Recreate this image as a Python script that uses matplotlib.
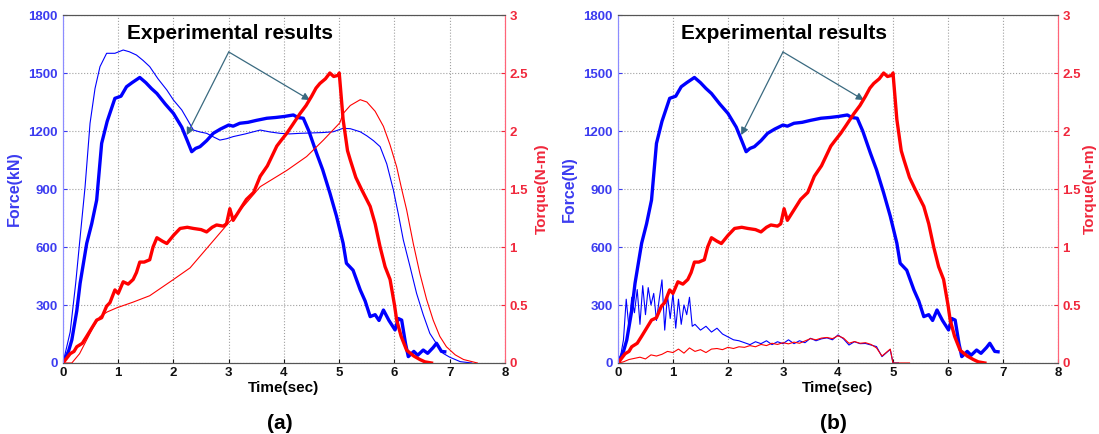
import numpy as np
import matplotlib.pyplot as plt

plt.rcParams['font.family'] = ['Liberation Sans', 'DejaVu Sans']
plt.rcParams['font.weight'] = 'bold'

# --- experimental force (thick blue), same in both panels ---
t_exp_force = [0, 0.1, 0.16, 0.25, 0.31, 0.43, 0.52, 0.61, 0.70, 0.80, 0.94, 1.05, 1.15, 1.25, 1.39,
               1.50, 1.60, 1.70, 1.85, 2.0, 2.15, 2.25, 2.33, 2.40, 2.48, 2.60, 2.72, 2.85, 3.0, 3.08,
               3.2, 3.35, 3.5, 3.69, 3.85, 4.0, 4.17, 4.25, 4.35, 4.45, 4.59, 4.7, 4.83, 4.95, 5.07,
               5.13, 5.25, 5.38, 5.47, 5.56, 5.65, 5.72, 5.80, 5.9, 6.01, 6.07, 6.13, 6.2, 6.25, 6.35,
               6.42, 6.52, 6.6, 6.7, 6.76, 6.85, 6.91]
exp_force = [0, 60, 119, 270, 412, 619, 720, 843, 1136, 1250, 1369, 1380, 1429, 1450, 1477,
             1450, 1420, 1394, 1340, 1291, 1220, 1150, 1093, 1110, 1119, 1150, 1188, 1210, 1231, 1225,
             1240, 1245, 1255, 1266, 1270, 1275, 1283, 1270, 1266, 1200, 1085, 1000, 880, 760, 620,
             516, 480, 378, 320, 240, 250, 220, 274, 220, 171, 230, 222, 100, 33, 60,
             40, 67, 50, 80, 102, 60, 58]

# --- experimental torque (thick red), same in both panels ---
t_exp_torque = [0, 0.13, 0.2, 0.25, 0.35, 0.43, 0.52, 0.61, 0.7, 0.79, 0.85, 0.94, 1.0, 1.09, 1.18,
                1.27, 1.33, 1.39, 1.47, 1.57, 1.63, 1.70, 1.80, 1.88, 2.0, 2.12, 2.25, 2.36, 2.50,
                2.60, 2.70, 2.78, 2.90, 2.96, 3.02, 3.08, 3.2, 3.32, 3.45, 3.57, 3.70, 3.87, 3.95,
                4.05, 4.15, 4.29, 4.40, 4.50, 4.58, 4.65, 4.75, 4.83, 4.9, 4.98, 5.0, 5.03, 5.07,
                5.15, 5.2, 5.3, 5.4, 5.56, 5.65, 5.74, 5.83, 5.92, 6.0, 6.04, 6.12, 6.22, 6.35,
                6.46, 6.55, 6.67]
exp_torque = [0, 0.08, 0.10, 0.14, 0.17, 0.23, 0.30, 0.37, 0.39, 0.49, 0.52, 0.63, 0.60, 0.70, 0.68,
              0.72, 0.78, 0.87, 0.87, 0.89, 1.0, 1.08, 1.05, 1.03, 1.10, 1.16, 1.17, 1.16, 1.15,
              1.13, 1.17, 1.19, 1.18, 1.20, 1.33, 1.23, 1.32, 1.41, 1.47, 1.61, 1.70, 1.87, 1.92,
              1.98, 2.05, 2.15, 2.22, 2.30, 2.37, 2.41, 2.45, 2.50, 2.47, 2.48, 2.50, 2.33, 2.10,
              1.83, 1.75, 1.60, 1.50, 1.35, 1.20, 1.00, 0.83, 0.72, 0.50, 0.37, 0.23, 0.11, 0.06,
              0.03, 0.01, 0]

# --- panel (a): simulated force (thin blue) ---
t_sim_force_a = [0, 0.13, 0.23, 0.3, 0.40, 0.49, 0.58, 0.67, 0.79, 0.94, 1.09, 1.2, 1.33, 1.45, 1.57,
                 1.72, 1.88, 2.0, 2.15, 2.25, 2.36, 2.48, 2.60, 2.72, 2.84, 2.96, 3.08, 3.3, 3.57,
                 3.75, 3.93, 4.1, 4.29, 4.5, 4.7, 4.89, 5.07, 5.2, 5.38, 5.5, 5.62, 5.74, 5.86, 5.98,
                 6.07, 6.16, 6.28, 6.40, 6.52, 6.64, 6.76, 6.88, 7.0, 7.19, 7.4]
sim_force_a = [0, 160, 412, 620, 912, 1240, 1420, 1533, 1602, 1602, 1619, 1610, 1593, 1565, 1533,
               1470, 1412, 1360, 1309, 1260, 1205, 1195, 1188, 1170, 1153, 1160, 1171, 1185, 1205,
               1195, 1188, 1185, 1188, 1190, 1192, 1196, 1214, 1212, 1196, 1175, 1150, 1119, 1030, 895,
               770, 636, 500, 360, 250, 153, 100, 50, 30, 7, 0]

# --- panel (a): simulated torque (thin red) ---
t_sim_torque_a = [0, 0.16, 0.3, 0.43, 0.55, 0.67, 0.8, 0.97, 1.27, 1.57, 2.0, 2.3, 2.66, 3.02, 3.32,
                  3.57, 4.05, 4.41, 4.71, 5.01, 5.07, 5.2, 5.38, 5.5, 5.65, 5.80, 5.92, 6.04, 6.13,
                  6.22, 6.34, 6.46, 6.58, 6.70, 6.82, 6.94, 7.1, 7.25, 7.5]
sim_torque_a = [0, 0, 0.08, 0.20, 0.31, 0.40, 0.44, 0.475, 0.525, 0.58, 0.72, 0.82, 1.02, 1.22, 1.38,
                1.52, 1.66, 1.78, 1.92, 2.07, 2.15, 2.22, 2.27, 2.25, 2.17, 2.04, 1.88, 1.69, 1.50,
                1.32, 1.03, 0.77, 0.55, 0.37, 0.23, 0.14, 0.07, 0.03, 0]

# --- panel (b): simulated force (thin blue, noisy) ---
t_sim_force_b = [0, 0.05, 0.1, 0.15, 0.2, 0.25, 0.3, 0.35, 0.4, 0.45, 0.5, 0.55, 0.6, 0.65, 0.7,
                 0.75, 0.8, 0.85, 0.9, 0.95, 1.0, 1.05, 1.1, 1.15, 1.2, 1.25, 1.3, 1.35, 1.4, 1.5,
                 1.6, 1.7, 1.8, 1.9, 2.0, 2.1, 2.2, 2.3, 2.4, 2.5, 2.6, 2.7, 2.8, 2.9, 3.0, 3.1,
                 3.2, 3.3, 3.4, 3.5, 3.6, 3.7, 3.8, 3.9, 4.0, 4.1, 4.2, 4.3, 4.4, 4.5, 4.6, 4.7,
                 4.8, 4.9, 4.95, 5.0, 5.1]
sim_force_b = [0, 40, 120, 330, 180, 340, 260, 380, 200, 400, 250, 390, 300, 360, 220,
               330, 430, 170, 350, 230, 360, 180, 330, 200, 300, 250, 340, 190, 200, 170,
               190, 160, 180, 150, 135, 120, 115, 105, 95, 110, 100, 115, 95, 110, 100, 120,
               100, 115, 105, 128, 115, 125, 130, 120, 145, 125, 93, 110, 100, 101, 93, 85,
               33, 58, 70, 0, 0]

# --- panel (b): simulated torque (thin red, noisy) ---
t_sim_torque_b = [0, 0.1, 0.2, 0.3, 0.4, 0.5, 0.6, 0.7, 0.8, 0.9, 1.0, 1.1, 1.2, 1.3, 1.4, 1.5,
                  1.6, 1.7, 1.8, 1.9, 2.0, 2.1, 2.2, 2.3, 2.4, 2.5, 2.6, 2.7, 2.8, 2.9, 3.0, 3.1,
                  3.2, 3.3, 3.4, 3.5, 3.6, 3.7, 3.8, 3.9, 4.0, 4.1, 4.2, 4.3, 4.4, 4.5, 4.6, 4.7,
                  4.8, 4.9, 4.95, 5.0, 5.3]
sim_torque_b = [0, 0.01, 0.03, 0.04, 0.05, 0.035, 0.07, 0.06, 0.075, 0.10, 0.09, 0.12, 0.085, 0.13,
                0.10, 0.115, 0.09, 0.12, 0.125, 0.115, 0.135, 0.125, 0.14, 0.135, 0.15, 0.14, 0.16,
                0.15, 0.17, 0.16, 0.175, 0.165, 0.18, 0.17, 0.19, 0.21, 0.20, 0.215, 0.22, 0.21,
                0.235, 0.215, 0.17, 0.185, 0.17, 0.175, 0.16, 0.13, 0.06, 0.10, 0.12, 0, 0]

x_ticks = [0, 1, 2, 3, 4, 5, 6, 7, 8]
force_ticks = [0, 300, 600, 900, 1200, 1500, 1800]
torque_ticks = [0, 0.5, 1, 1.5, 2, 2.5, 3]
torque_labels = ['0', '0.5', '1', '1.5', '2', '2.5', '3']

BLUE = '#0000ff'
RED = '#ff0000'
BLUE_TXT = '#3c3cf0'
RED_TXT = '#f0283c'

fig = plt.figure(figsize=(10.99, 4.34), dpi=100)


def panel(rect, force_label, sim_t_f, sim_f, sim_t_q, sim_q, tag, torque_pad):
    ax = fig.add_axes(rect)
    ax2 = ax.twinx()

    ax.plot(sim_t_f, sim_f, color=BLUE, lw=0.8)
    ax.plot(t_exp_force, exp_force, color=BLUE, lw=2.4)
    ax2.plot(sim_t_q, sim_q, color=RED, lw=0.8)
    ax2.plot(t_exp_torque, exp_torque, color=RED, lw=2.4)

    ax.set_xlim(0, 8)
    ax.set_ylim(0, 1800)
    ax2.set_ylim(0, 3)
    ax.set_xticks(x_ticks)
    ax.set_yticks(force_ticks)
    ax2.set_yticks(torque_ticks)
    ax2.set_yticklabels(torque_labels)

    ax.grid(True, color='#a0a0a0', linestyle=':', lw=0.8)
    ax.tick_params(axis='x', direction='in', labelsize=9.5, colors='#111111', pad=3, length=3)
    ax.tick_params(axis='y', direction='in', labelsize=9.5, colors=BLUE_TXT, pad=4, length=3)
    ax2.tick_params(axis='y', direction='in', labelsize=9.5, colors=RED_TXT, pad=3, length=3)

    for a in (ax, ax2):
        a.spines['left'].set_color('#8c8cff')
        a.spines['right'].set_color('#ff6478')
        a.spines['top'].set_color('#555555')
        a.spines['bottom'].set_color('#555555')

    ax.set_xlabel('Time(sec)', fontsize=11, fontweight='bold', labelpad=1)
    ax.set_ylabel(force_label, fontsize=11.5, fontweight='bold', color=BLUE_TXT, labelpad=4)
    ax2.set_ylabel('Torque(N-m)', fontsize=11, fontweight='bold', color=RED_TXT,
                   labelpad=torque_pad)

    ax.text(3.02, 1705, 'Experimental results', fontsize=15, fontweight='bold',
            ha='center', va='center', color='black')
    for end in [(2.24, 1179), (4.47, 1360)]:
        ax.annotate('', xy=end, xytext=(3.0, 1609),
                    arrowprops=dict(arrowstyle='-|>', color='#3a6a80', lw=0.9,
                                    mutation_scale=11, shrinkA=0, shrinkB=0))
    ax.text(0.49, -0.175, tag, transform=ax.transAxes, fontsize=15, fontweight='bold',
            ha='center', va='center')
    return ax


panel([0.0573, 0.1636, 0.4022, 0.8018], 'Force(kN)', t_sim_force_a, sim_force_a,
      t_sim_torque_a, sim_torque_a, '(a)', 5)
panel([0.5623, 0.1636, 0.4004, 0.8018], 'Force(N)', t_sim_force_b, sim_force_b,
      t_sim_torque_b, sim_torque_b, '(b)', 1.5)

fig.savefig('out.png', dpi=100)
